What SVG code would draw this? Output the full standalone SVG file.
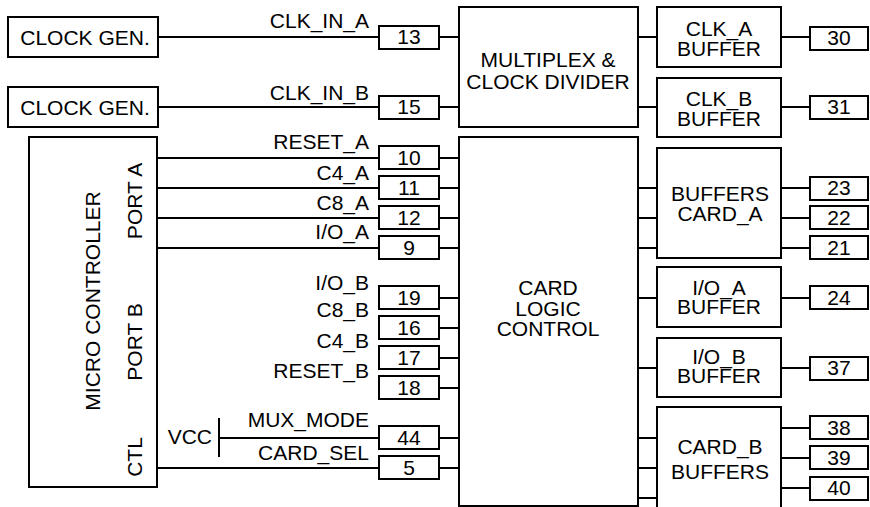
<svg xmlns="http://www.w3.org/2000/svg" width="870" height="507" viewBox="0 0 870 507">
<style>
.b{fill:#fff;stroke:#000;stroke-width:2}
.w{fill:none;stroke:#000;stroke-width:2}
text{font-family:"Liberation Sans",Arial,sans-serif;font-size:21px;fill:#000}
.m{text-anchor:middle}
.e{text-anchor:end}
</style>
<rect width="870" height="507" fill="#fff"/>
<g id="connectors">
<path class="w" d="M158 37H379M158 107H379M439 37H459M439 107H459M638 37H657M638 107H657M781 37H810M781 107H810"/>
<path class="w" d="M157 158H379M157 188H379M157 218H379M157 248H379M157 468H379M219 438H379M219 418V457"/>
<path class="w" d="M439 158H459M439 188H459M439 218H459M439 248H459M439 298H459M439 328H459M439 358H459M439 388H459M439 438H459M439 468H459"/>
<path class="w" d="M638 188H657M638 218H657M638 248H657M638 298H657M638 368H657M638 438H657M638 468H657M638 498H657"/>
<path class="w" d="M781 188H810M781 218H810M781 248H810M781 298H810M781 368H810M781 428H810M781 458H810M781 488H810"/>
</g>
<g id="clockgen1"><rect class="b" x="8" y="17" width="150" height="40"/><text class="m" x="85" y="45">CLOCK GEN.</text></g>
<g id="clockgen2"><rect class="b" x="8" y="87" width="150" height="40"/><text class="m" x="85" y="115">CLOCK GEN.</text></g>
<g id="mux"><rect class="b" x="459" y="7" width="179" height="120"/><text class="m" x="548" y="67">MULTIPLEX &amp;</text><text class="m" x="548" y="89">CLOCK DIVIDER</text></g>
<g id="clka"><rect class="b" x="657" y="7" width="124" height="60"/><text class="m" x="719" y="36">CLK_A</text><text class="m" x="719" y="56">BUFFER</text></g>
<g id="clkb"><rect class="b" x="657" y="78" width="124" height="59"/><text class="m" x="719" y="106">CLK_B</text><text class="m" x="719" y="126">BUFFER</text></g>
<g id="micro"><rect class="b" x="29" y="137" width="128" height="350"/>
<text class="m" transform="translate(100,301) rotate(-90)">MICRO CONTROLLER</text>
<text class="m" transform="translate(142,201) rotate(-90)">PORT A</text>
<text class="m" transform="translate(142,342) rotate(-90)">PORT B</text>
<text class="m" transform="translate(142,457) rotate(-90)">CTL</text></g>
<g id="clc"><rect class="b" x="459" y="137" width="179" height="369"/><text class="m" x="548" y="295">CARD</text><text class="m" x="548" y="316">LOGIC</text><text class="m" x="548" y="336">CONTROL</text></g>
<g id="bufa"><rect class="b" x="657" y="148" width="124" height="110"/><text class="m" x="720" y="201">BUFFERS</text><text class="m" x="720" y="221">CARD_A</text></g>
<g id="ioa"><rect class="b" x="657" y="267" width="124" height="60"/><text class="m" x="719" y="295">I/O_A</text><text class="m" x="719" y="314">BUFFER</text></g>
<g id="iob"><rect class="b" x="657" y="338" width="124" height="59"/><text class="m" x="719" y="364">I/O_B</text><text class="m" x="719" y="383">BUFFER</text></g>
<g id="bufb"><rect class="b" x="657" y="407" width="124" height="120"/><text class="m" x="720" y="454">CARD_B</text><text class="m" x="720" y="479">BUFFERS</text></g>
<g id="labels">
<text class="e" x="369" y="28">CLK_IN_A</text>
<text class="e" x="369" y="100">CLK_IN_B</text>
<text class="e" x="369" y="149">RESET_A</text>
<text class="e" x="369" y="180">C4_A</text>
<text class="e" x="369" y="210">C8_A</text>
<text class="e" x="369" y="239">I/O_A</text>
<text class="e" x="369" y="290">I/O_B</text>
<text class="e" x="369" y="317">C8_B</text>
<text class="e" x="369" y="348">C4_B</text>
<text class="e" x="369" y="378">RESET_B</text>
<text class="e" x="369" y="427">MUX_MODE</text>
<text class="e" x="369" y="460">CARD_SEL</text>
<text class="e" x="212" y="444">VCC</text>
</g>
<g id="pins-left">
<g id="p13"><rect class="b" x="379" y="26" width="60" height="23"/><text class="m" x="409" y="44">13</text></g>
<g id="p15"><rect class="b" x="379" y="96" width="60" height="23"/><text class="m" x="409" y="114">15</text></g>
<g id="p10"><rect class="b" x="379" y="146" width="60" height="23"/><text class="m" x="409" y="165">10</text></g>
<g id="p11"><rect class="b" x="379" y="176" width="60" height="23"/><text class="m" x="409" y="195">11</text></g>
<g id="p12"><rect class="b" x="379" y="206" width="60" height="23"/><text class="m" x="409" y="225">12</text></g>
<g id="p9"><rect class="b" x="379" y="236" width="60" height="23"/><text class="m" x="409" y="255">9</text></g>
<g id="p19"><rect class="b" x="379" y="286" width="60" height="23"/><text class="m" x="409" y="305">19</text></g>
<g id="p16"><rect class="b" x="379" y="316" width="60" height="23"/><text class="m" x="409" y="335">16</text></g>
<g id="p17"><rect class="b" x="379" y="346" width="60" height="23"/><text class="m" x="409" y="365">17</text></g>
<g id="p18"><rect class="b" x="379" y="376" width="60" height="23"/><text class="m" x="409" y="395">18</text></g>
<g id="p44"><rect class="b" x="379" y="426" width="60" height="23"/><text class="m" x="409" y="445">44</text></g>
<g id="p5"><rect class="b" x="379" y="456" width="60" height="23"/><text class="m" x="409" y="475">5</text></g>
</g>
<g id="pins-right">
<g id="p30"><rect class="b" x="810" y="27" width="58" height="23"/><text class="m" x="839" y="45">30</text></g>
<g id="p31"><rect class="b" x="810" y="96" width="58" height="23"/><text class="m" x="839" y="114">31</text></g>
<g id="p23"><rect class="b" x="810" y="177" width="58" height="23"/><text class="m" x="839" y="195">23</text></g>
<g id="p22"><rect class="b" x="810" y="206" width="58" height="23"/><text class="m" x="839" y="225">22</text></g>
<g id="p21"><rect class="b" x="810" y="236" width="58" height="23"/><text class="m" x="839" y="255">21</text></g>
<g id="p24"><rect class="b" x="810" y="286" width="58" height="23"/><text class="m" x="839" y="305">24</text></g>
<g id="p37"><rect class="b" x="810" y="357" width="58" height="23"/><text class="m" x="839" y="375">37</text></g>
<g id="p38"><rect class="b" x="810" y="416" width="58" height="23"/><text class="m" x="839" y="435">38</text></g>
<g id="p39"><rect class="b" x="810" y="446" width="58" height="23"/><text class="m" x="839" y="465">39</text></g>
<g id="p40"><rect class="b" x="810" y="477" width="58" height="23"/><text class="m" x="839" y="495">40</text></g>
</g>
</svg>
